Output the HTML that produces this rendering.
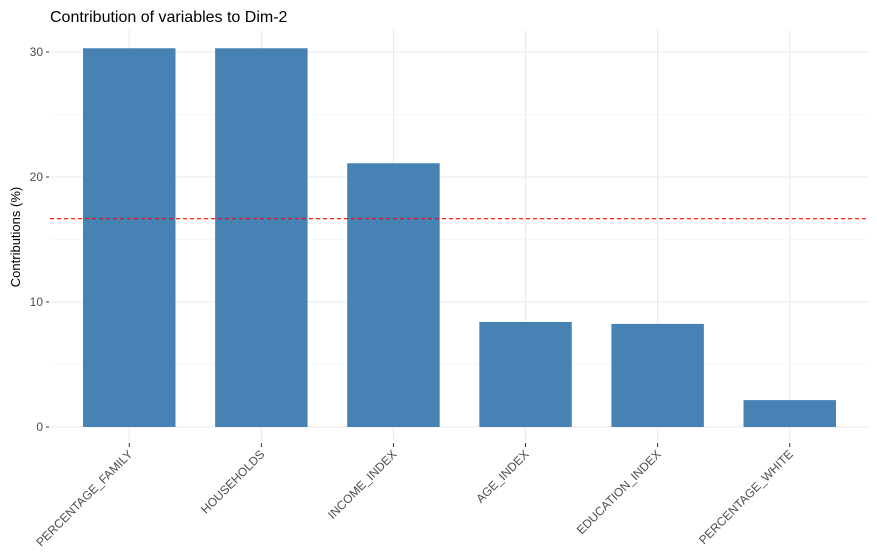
<!DOCTYPE html>
<html><head><meta charset="utf-8"><style>body{margin:0;background:#fff}svg{display:block;font-family:"Liberation Sans",sans-serif}</style></head>
<body>
<svg id="c" width="877" height="558">
<text x="50" y="22" font-size="16" fill="#000">Contribution of variables to Dim-2</text>
<text transform="translate(20,237) rotate(-90)" text-anchor="middle" font-size="13" fill="#000">Contributions (%)</text>
</svg>
<script>
const categories=["PERCENTAGE_FAMILY","HOUSEHOLDS","INCOME_INDEX","AGE_INDEX","EDUCATION_INDEX","PERCENTAGE_WHITE"];
const values=[30.3,30.3,21.1,8.4,8.25,2.15];
const yTicks=[0,10,20,30];
const yMinor=[5,15,25];
const refLine=[100/6];
const svg=document.getElementById('c');
const NS='http://www.w3.org/2000/svg';
const L=50,R=869,T=30,B=440;
const step=(R-L)/(categories.length+0.2);
const x=i=>L+(0.6+i)*step;
const y=v=>427-v*12.5;
function mk(t,a){const e=document.createElementNS(NS,t);for(const k in a)e.setAttribute(k,a[k]);svg.appendChild(e);return e;}
yMinor.forEach(v=>{const e=mk('line',{x1:L,x2:R,y1:y(v),y2:y(v),stroke:'#f2f2f2','stroke-width':0.6});

});
yTicks.forEach(v=>{const e=mk('line',{x1:L,x2:R,y1:y(v),y2:y(v),stroke:'#ebebeb','stroke-width':1.1});


const tk=mk('line',{x1:L-4,x2:L-1,y1:y(v),y2:y(v),stroke:'#333'});


const t=mk('text',{x:L-7,y:y(v)+4,'text-anchor':'end','font-size':12,fill:'#4d4d4d'});t.textContent=v;

});
categories.forEach((c,i)=>{const g=mk('line',{x1:x(i),x2:x(i),y1:T,y2:B,stroke:'#ebebeb','stroke-width':1.1});

});
categories.forEach((c,i)=>{const w=step*0.7;
const b=mk('rect',{x:x(i)-w/2,y:y(values[i]),width:w,height:y(0)-y(values[i]),fill:'#4682b4'});


const tk=mk('line',{x1:x(i),x2:x(i),y1:B+3,y2:B+7,stroke:'#333'});


const t=mk('text',{transform:`translate(${x(i)+4},${B+15}) rotate(-45)`,'text-anchor':'end','font-size':12,fill:'#4d4d4d'});t.textContent=c;

});
refLine.forEach(v=>{const e=mk('line',{x1:L,x2:R,y1:y(v),y2:y(v),stroke:'#ff0000','stroke-dasharray':'4,3','stroke-width':1.1});

});
</script>
</body></html>
